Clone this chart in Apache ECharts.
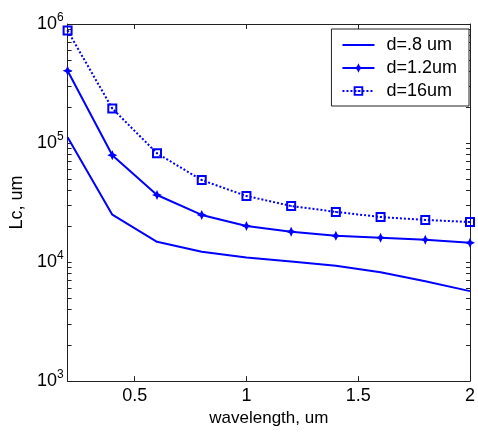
<!DOCTYPE html>
<html><head><meta charset="utf-8">
<script src="https://cdn.jsdelivr.net/npm/echarts@6/dist/echarts.min.js"></script>
<style>html,body{margin:0;padding:0;background:#fff}#c{width:478px;height:432px}</style>
</head><body><div id="c"></div>
<script>
const wavelengths = [0.2, 0.4, 0.6, 0.8, 1.0, 1.2, 1.4, 1.6, 1.8, 2.0];
const d08 = [112000, 25000, 14800, 12200, 10900, 10100, 9300, 8200, 6900, 5700];
const d12 = [405000, 79000, 36600, 24900, 20100, 18000, 16600, 16000, 15400, 14500];
const d16 = [880000, 195000, 82000, 48800, 35900, 29600, 26400, 23900, 22600, 21700];
const seriesNames = ['d=.8 um', 'd=1.2um', 'd=16um'];
const xTicks = [0.5, 1, 1.5, 2];
const yMajor = [1e3, 1e4, 1e5, 1e6];
const yMinor = [];
for (let e = 3; e < 6; e++) for (let m = 2; m <= 9; m++) yMinor.push(m * Math.pow(10, e));

const BLUE = '#0000ff';
const FONT = 'Liberation Sans';
const pairs = arr => wavelengths.map((x, i) => [x, arr[i]]);
const starPath = 'path://M0,-5 L1.6,-1.6 L5,0 L1.6,1.6 L0,5 L-1.6,1.6 L-5,0 L-1.6,-1.6 Z';
const squarePath = 'path://M0,0 L10,0 L10,10 L0,10 Z M2,2 L2,8 L8,8 L8,2 Z M4.2,4.2 L5.8,4.2 L5.8,5.8 L4.2,5.8 Z';

const chart = echarts.init(document.getElementById('c'), null, {renderer: 'canvas'});
const axisLine = {show: true, lineStyle: {color: '#222', width: 1}};
chart.setOption({
  animation: false,
  backgroundColor: '#fff',
  grid: {left: 67, right: 3, top: 24, bottom: 49, containLabel: false},
  legend: {
    right: 9, top: 29, orient: 'vertical',
    backgroundColor: '#fff', borderColor: '#222', borderWidth: 1, borderRadius: 0,
    padding: [7, 12, 6, 10], itemGap: 5, itemWidth: 32, itemHeight: 12,
    symbolKeepAspect: true,
    textStyle: {fontFamily: FONT, fontSize: 18, lineHeight: 18, color: '#000', padding: [0, 0, 0, 7]},
    data: [
      {name: seriesNames[0], icon: 'path://M0,0 L32,0 L32,2 L0,2 Z'},
      seriesNames[1],
      seriesNames[2]
    ]
  },
  xAxis: [{
    type: 'value', min: 0.2, max: 2, position: 'bottom',
    axisLine: axisLine,
    axisTick: {show: true, inside: true, length: 5, customValues: xTicks, lineStyle: {color: '#222'}},
    axisLabel: {customValues: xTicks, fontFamily: FONT, fontSize: 18, color: '#000', margin: 6,
      formatter: v => String(v)},
    splitLine: {show: false},
    name: 'wavelength, um', nameLocation: 'middle', nameGap: 27,
    nameTextStyle: {fontFamily: FONT, fontSize: 17, color: '#000'}
  }, {
    type: 'value', min: 0.2, max: 2, position: 'top',
    axisLine: axisLine,
    axisTick: {show: true, inside: true, length: 5, customValues: xTicks, lineStyle: {color: '#222'}},
    axisLabel: {show: false}, splitLine: {show: false}
  }],
  yAxis: [{
    type: 'log', logBase: 10, min: 1e3, max: 1e6, position: 'left',
    axisLine: axisLine,
    axisTick: {show: true, inside: true, length: 4, customValues: yMajor.concat(yMinor), lineStyle: {color: '#222'}},
    axisLabel: {customValues: yMajor, margin: 4, color: '#000',
      formatter: v => '{b|10}{s|' + Math.round(Math.log10(v)) + '}',
      rich: {b: {fontFamily: FONT, fontSize: 18, color: '#000'},
             s: {fontFamily: FONT, fontSize: 12, color: '#000', verticalAlign: 'top', padding: [0, 0, 12, 0]}}},
    splitLine: {show: false},
    name: 'Lc, um', nameLocation: 'middle', nameGap: 39, nameRotate: 90,
    nameTextStyle: {fontFamily: FONT, fontSize: 18, color: '#000'}
  }, {
    type: 'log', logBase: 10, min: 1e3, max: 1e6, position: 'right',
    axisLine: axisLine,
    axisTick: {show: true, inside: true, length: 4, customValues: yMajor.concat(yMinor), lineStyle: {color: '#222'}},
    axisLabel: {show: false}, splitLine: {show: false}
  }],
  series: [{
    name: seriesNames[0], type: 'line', data: pairs(d08),
    showSymbol: false, symbol: 'none',
    lineStyle: {color: BLUE, width: 2}, itemStyle: {color: BLUE}
  }, {
    name: seriesNames[1], type: 'line', data: pairs(d12),
    symbol: starPath, symbolSize: 10,
    lineStyle: {color: BLUE, width: 2}, itemStyle: {color: BLUE}
  }, {
    name: seriesNames[2], type: 'line', data: pairs(d16),
    symbol: squarePath, symbolSize: 10,
    lineStyle: {color: BLUE, width: 2, type: 'dotted'}, itemStyle: {color: BLUE}
  }]
});
</script></body></html>
